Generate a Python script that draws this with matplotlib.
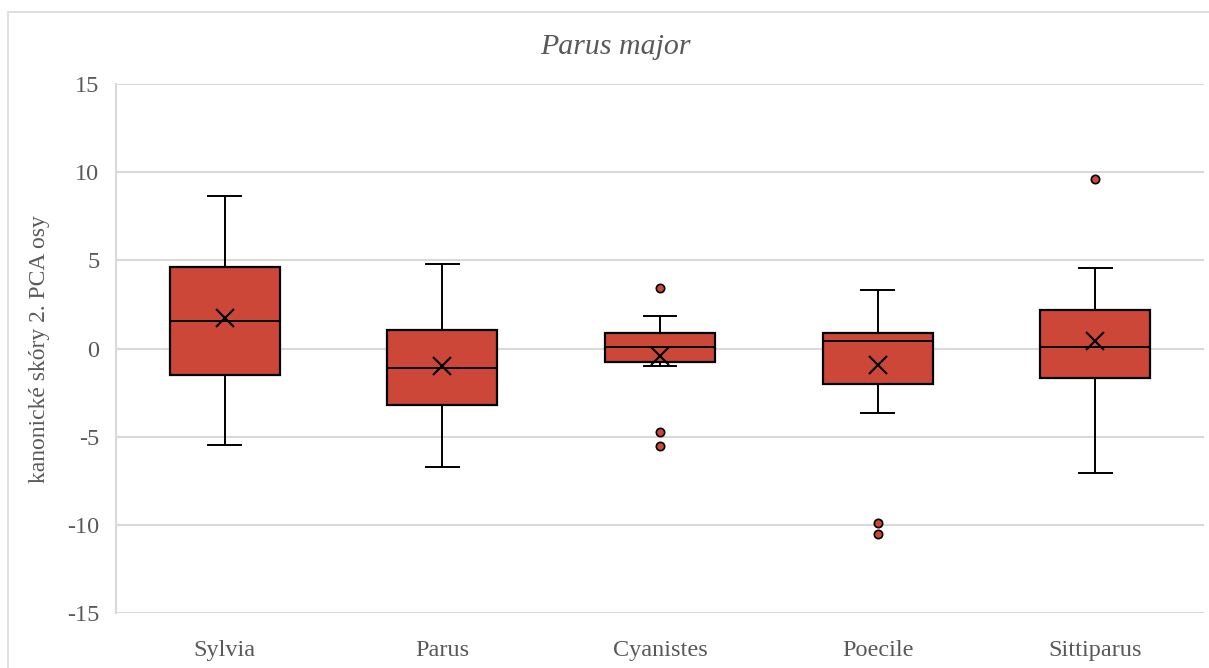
import numpy as np
import matplotlib.pyplot as plt
from matplotlib.patches import Rectangle

# -----------------------------
# data
# -----------------------------
genera = ["Sylvia", "Parus", "Cyanistes", "Poecile", "Sittiparus"]
whislo = [-5.44, -6.68, -0.96, -3.65, -7.06]
q1 = [-1.52, -3.20, -0.73, -1.98, -1.66]
med = [1.58, -1.09, 0.09, 0.45, 0.10]
q3 = [4.65, 1.03, 0.86, 0.90, 2.19]
whishi = [8.63, 4.82, 1.85, 3.32, 4.58]
means = [1.73, -1.00, -0.40, -0.90, 0.41]
outliers = [[], [], [3.46, -4.71, -5.52], [-9.89, -10.51], [9.64]]

yticks = [-15, -10, -5, 0, 5, 10, 15]

box_color = "#CD4739"
grey = "#595959"
grid_c = "#D9D9D9"

plt.rcParams["font.family"] = ["Liberation Serif", "DejaVu Serif"]

stats = []
for i, g in enumerate(genera):
    stats.append(dict(label=g, whislo=whislo[i], q1=q1[i], med=med[i], q3=q3[i],
                      whishi=whishi[i], mean=means[i], fliers=outliers[i]))

fig = plt.figure(figsize=(12.09, 6.68), dpi=100)
ax = fig.add_axes([116 / 1209, 1 - 613.3 / 668, 1088 / 1209, 529.3 / 668])

# outer chart border (Excel style)
fig.patches.append(Rectangle((8 / 1209, -0.05), 1.1, 1 - 12 / 668 + 0.05,
                             transform=fig.transFigure, fill=False,
                             edgecolor=grid_c, linewidth=1.2))

positions = np.arange(1, len(genera) + 1)
ax.bxp(stats, positions=positions, widths=0.506, patch_artist=True,
       showmeans=True, showfliers=True,
       boxprops=dict(facecolor=box_color, edgecolor="black", linewidth=1.6),
       medianprops=dict(color="black", linewidth=1.4),
       whiskerprops=dict(color="black", linewidth=1.4),
       capprops=dict(color="black", linewidth=1.4),
       capwidths=0.15,
       meanprops=dict(marker="x", markeredgecolor="black", markersize=12.5,
                      markeredgewidth=1.5),
       flierprops=dict(marker="o", markerfacecolor=box_color,
                       markeredgecolor="black", markersize=6, markeredgewidth=1.2),
       zorder=3)

ax.set_xlim(0.5, len(genera) + 0.5)
ax.set_ylim(-15, 15)
ax.set_yticks(yticks)
ax.set_yticklabels([str(t) for t in yticks])
ax.set_xticks(positions)
ax.set_xticklabels(genera)

ax.yaxis.grid(True, color=grid_c, linewidth=1.5, zorder=0)
ax.set_axisbelow(True)
for s in ["top", "right", "bottom"]:
    ax.spines[s].set_visible(False)
ax.spines["left"].set_color(grid_c)
ax.spines["left"].set_linewidth(1.5)

ax.tick_params(axis="both", length=0, labelcolor=grey, labelsize=17.5)
ax.tick_params(axis="y", pad=12)
ax.tick_params(axis="x", pad=19)

ax.set_ylabel("kanonické skóry 2. PCA osy", fontsize=17, color=grey, labelpad=12)
fig.text(615 / 1209, 1 - 47 / 668, "Parus major", ha="center", va="center",
         fontsize=21.5, style="italic", color=grey)

fig.savefig("out.png", dpi=100)
